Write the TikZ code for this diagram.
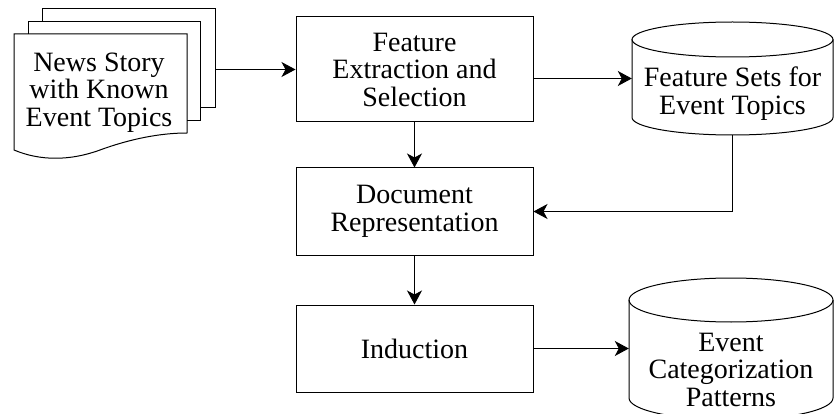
\documentclass[tikz,border=0pt]{standalone}
\usepackage{fontspec}
\setmainfont{Liberation Serif}
\usetikzlibrary{arrows.meta}
\begin{document}
\begin{tikzpicture}[x=1pt,y=1pt,
  txt/.style={align=center,font=\fontsize{28}{27.5}\selectfont,inner sep=0pt},
  procbox/.style={draw,line width=1pt,minimum width=237pt,inner sep=0pt,txt},
  holder/.style={inner sep=0pt,draw=none},
  arr/.style={line width=1pt,-{Stealth[length=14pt,width=15pt,inset=4pt]}},
  edge/.style={line width=1pt},
]
\useasboundingbox (0,0) rectangle (835,-414);
% process boxes
\node[procbox,minimum height=105pt] (fe) at (414.5,-69.5) {Feature\\Extraction and\\Selection};
\node[procbox,minimum height=87pt] (dr) at (414.5,-211.5) {Document\\Representation};
\node[procbox,minimum height=87pt] (ind) at (414.5,-348.5) {Induction};
% document stack
\node[holder,minimum width=173pt,minimum height=99pt] (stack) at (128.5,-58.5) {};
\draw[edge] (42,-22) -- (42,-9) -- (215,-9) -- (215,-108) -- (200,-108);
\draw[edge] (28,-34) -- (28,-22) -- (200,-22) -- (200,-121) -- (187,-121);
\draw[edge] (187,-133) -- (187,-34) -- (14,-34) -- (14,-150)
  .. controls (40,-161) and (70,-161) .. (100,-150)
  .. controls (130,-139) and (160,-133) .. (187,-133) -- cycle;
\node[txt] (news) at (99,-92.5) {News Story\\with Known\\Event Topics};
% cylinder 1
\node[holder,minimum width=201pt,minimum height=113pt] (fs) at (732.5,-78.5) {};
\draw[edge] (632,-39.5) -- (632,-117.5) arc[start angle=180,end angle=360,x radius=100.5pt,y radius=17.5pt] -- (833,-39.5);
\draw[edge] (732.5,-39.5) ellipse [x radius=100.5pt,y radius=17.5pt];
\node[txt] (fslabel) at (732.5,-93.5) {Feature Sets for\\Event Topics};
% cylinder 2
\node[holder,minimum width=204pt,minimum height=142pt] (ecp) at (731,-348.5) {};
\draw[edge] (629,-300) -- (629,-398) arc[start angle=180,end angle=360,x radius=102pt,y radius=22pt] -- (833,-300);
\draw[edge] (731,-300) ellipse [x radius=102pt,y radius=22pt];
\node[txt] (ecplabel) at (731,-369.5) {Event\\Categorization\\Patterns};
% connectors
\draw[arr] (stack.east |- fe.west) -- (fe.west);
\draw[arr] (fe.east |- fs.west) -- (fs.west);
\draw[arr] (fe.south) -- (dr.north);
\draw[arr] (fs.south) |- (dr.east);
\draw[arr] (dr.south) -- (ind.north);
\draw[arr] (ind.east) -- (ecp.west);
\end{tikzpicture}
\end{document}
